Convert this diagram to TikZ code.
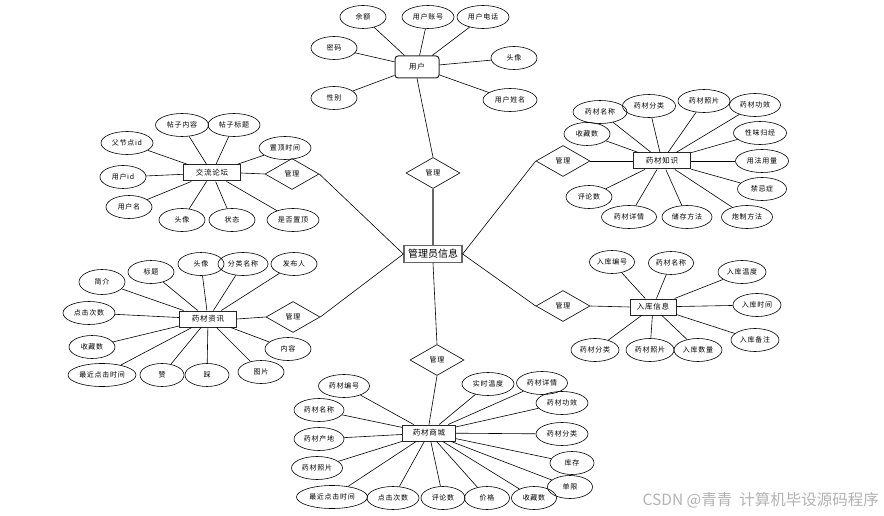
\documentclass[tikz,border=0pt]{standalone}
\usepackage{fontspec}
\newfontfamily\cjk[LetterSpace=10]{Noto Sans CJK SC}
\newfontfamily\cjkw{Noto Sans CJK SC}
\usetikzlibrary{shapes.geometric}
\tikzset{
 attr/.style={ellipse, draw, line width=0.6pt, minimum height=23pt, minimum width=46pt, inner sep=0pt, font=\cjk\fontsize{7}{8}\selectfont},
 ent/.style={rectangle, draw=black!85, line width=1pt, minimum height=16pt, minimum width=57pt, inner sep=0pt, font=\cjk\fontsize{7.5}{8}\selectfont},
 rel/.style={diamond, draw, line width=0.6pt, minimum width=54pt, minimum height=31pt, inner sep=0pt, font=\cjk\fontsize{7}{8}\selectfont},
 link/.style={line width=0.6pt},
}
\begin{document}
\begin{tikzpicture}[x=1pt,y=-1pt]
\useasboundingbox (0,0) rectangle (884,516);
% central
\node[ent, draw=black!60, line width=1.3pt, minimum width=58pt, minimum height=17pt, font=\cjkw\fontsize{10}{11}\selectfont] (adm) at (433,254) {管理员信息};
% relations
\node[rel] (r1) at (433,173) {管理};
\node[rel] (r2) at (292,174) {管理};
\node[rel] (r3) at (563,161) {管理};
\node[rel] (r4) at (293,317) {管理};
\node[rel] (r5) at (563,306) {管理};
\node[rel] (r6) at (437,360) {管理};
% entities
\node[ent, rounded corners=3pt, minimum width=44pt, minimum height=22pt] (user) at (417,67) {用户};
\node[ent] (forum) at (212,173) {交流论坛};
\node[ent] (know) at (662,161) {药材知识};
\node[ent] (news) at (208,319) {药材资讯};
\node[ent, minimum width=46pt] (stock) at (653,307) {入库信息};
\node[ent, minimum width=53pt] (shop) at (429,433) {药材商城};
% user attributes
\node[attr] (u1) at (363,17) {余额};
\node[attr, minimum width=52pt] (u2) at (428,17) {用户账号};
\node[attr, minimum width=52pt] (u3) at (483,17) {用户电话};
\node[attr] (u4) at (334,48) {密码};
\node[attr] (u5) at (514,58) {头像};
\node[attr] (u6) at (334,98) {性别};
\node[attr, minimum width=54pt] (u7) at (510,100) {用户姓名};
% forum attributes
\node[attr, minimum width=53pt] (f1) at (182,125) {帖子内容};
\node[attr, minimum width=52pt] (f2) at (234,125) {帖子标题};
\node[attr, minimum width=52pt] (f3) at (127,143) {父节点id};
\node[attr, minimum width=52pt] (f4) at (285,148) {置顶时间};
\node[attr] (f5) at (123,177) {用户id};
\node[attr] (f6) at (129,207) {用户名};
\node[attr] (f7) at (182,220) {头像};
\node[attr] (f8) at (232,220) {状态};
\node[attr, minimum width=52pt] (f9) at (293,220) {是否置顶};
% knowledge attributes
\node[attr, minimum width=54pt] (k1) at (600,112) {药材名称};
\node[attr, minimum width=53pt] (k2) at (649,106) {药材分类};
\node[attr, minimum width=52pt] (k3) at (704,101) {药材照片};
\node[attr, minimum width=51pt] (k4) at (755,105) {药材功效};
\node[attr] (k5) at (587,134) {收藏数};
\node[attr, minimum width=53pt] (k6) at (760,133) {性味归经};
\node[attr, minimum width=53pt] (k7) at (762,161) {用法用量};
\node[attr, minimum width=49pt] (k8) at (762,189) {禁忌症};
\node[attr] (k9) at (589,197) {评论数};
\node[attr, minimum width=55pt] (k10) at (629,217) {药材详情};
\node[attr, minimum width=50pt] (k11) at (687,217) {储存方法};
\node[attr, minimum width=51pt] (k12) at (747,217) {炮制方法};
% stock attributes
\node[attr, minimum width=45pt] (s1) at (612,262) {入库编号};
\node[attr, minimum width=45pt] (s2) at (671,263) {药材名称};
\node[attr, minimum width=48pt] (s3) at (742,272) {入库温度};
\node[attr, minimum width=48pt] (s4) at (757,305) {入库时间};
\node[attr, minimum width=48pt] (s5) at (755,340) {入库备注};
\node[attr, minimum width=48pt] (s6) at (595,350) {药材分类};
\node[attr, minimum width=48pt] (s7) at (650,350) {药材照片};
\node[attr, minimum width=48pt] (s8) at (698,350) {入库数量};
% news attributes
\node[attr, minimum height=25pt] (n1) at (102,282) {简介};
\node[attr] (n2) at (151,272) {标题};
\node[attr] (n3) at (201,264) {头像};
\node[attr, minimum width=50pt] (n4) at (243,264) {分类名称};
\node[attr] (n5) at (294,264) {发布人};
\node[attr, minimum width=52pt] (n6) at (89,313) {点击次数};
\node[attr] (n7) at (92,347) {收藏数};
\node[attr, minimum width=68pt] (n8) at (102,375) {最近点击时间};
\node[attr, minimum width=44pt] (n9) at (162,375) {赞};
\node[attr, minimum width=44pt] (n10) at (207,375) {踩};
\node[attr] (n11) at (261,372) {图片};
\node[attr] (n12) at (288,349) {内容};
% shop attributes
\node[attr, minimum width=51pt] (m1) at (344,386) {药材编号};
\node[attr, minimum width=50pt] (m2) at (319,410) {药材名称};
\node[attr, minimum width=50pt] (m3) at (319,439) {药材产地};
\node[attr, minimum width=51pt] (m4) at (317,468) {药材照片};
\node[attr, minimum width=71pt] (m5) at (332,497) {最近点击时间};
\node[attr, minimum width=52pt] (m6) at (393,498) {点击次数};
\node[attr, minimum width=44pt] (m7) at (443,498) {评论数};
\node[attr, minimum width=45pt] (m8) at (487,498) {价格};
\node[attr, minimum width=45pt] (m9) at (534,498) {收藏数};
\node[attr, minimum width=52pt] (m10) at (488,384) {实时温度};
\node[attr, minimum width=51pt] (m11) at (542,383) {药材详情};
\node[attr, minimum width=52pt] (m12) at (562,403) {药材功效};
\node[attr, minimum width=52pt] (m13) at (562,434) {药材分类};
\node[attr, minimum width=44pt] (m14) at (572,463) {库存};
\node[attr, minimum width=45pt] (m15) at (570,487) {单限};
% links
\draw[link, draw=black!60, line width=1.2pt] (adm.north) -- (r1.south);
\draw[link] (r1.north) -- (user.south);
\draw[link] (r2.east) -- (adm.west);
\draw[link] (r4.east) -- (adm.west);
\draw[link] (r3.west) -- (adm.east);
\draw[link] (r5.west) -- (adm.east);
\draw[link] (adm.south) -- (r6.north);
\draw[link] (r6.south) -- (shop.north);
\draw[link] (r2.west) -- (forum.east);
\draw[link] (r3.east) -- (know.west);
\draw[link] (r4.west) -- (news.east);
\draw[link] (r5.east) -- (stock.west);
\foreach \n in {u1,u2,u3,u4,u5,u6,u7} \draw[link] (user) -- (\n);
\foreach \n in {f1,f2,f3,f4,f5,f6,f7,f8,f9} \draw[link] (forum) -- (\n);
\foreach \n in {k1,k2,k3,k4,k5,k6,k7,k8,k9,k10,k11,k12} \draw[link] (know) -- (\n);
\foreach \n in {s1,s2,s3,s4,s5,s6,s7,s8} \draw[link] (stock) -- (\n);
\foreach \n in {n1,n2,n3,n4,n5,n6,n7,n8,n9,n10,n11,n12} \draw[link] (news) -- (\n);
\foreach \n in {m1,m2,m3,m4,m5,m6,m7,m8,m9,m10,m11,m12,m13,m14,m15} \draw[link] (shop) -- (\n);
% watermark
\node[anchor=east, text=black!30, inner sep=0pt, font=\cjkw\fontsize{15.5}{16}\selectfont] (wm) at (879,500) {CSDN @青青\ \ 计算机毕设源码程序};
\end{tikzpicture}
\end{document}
